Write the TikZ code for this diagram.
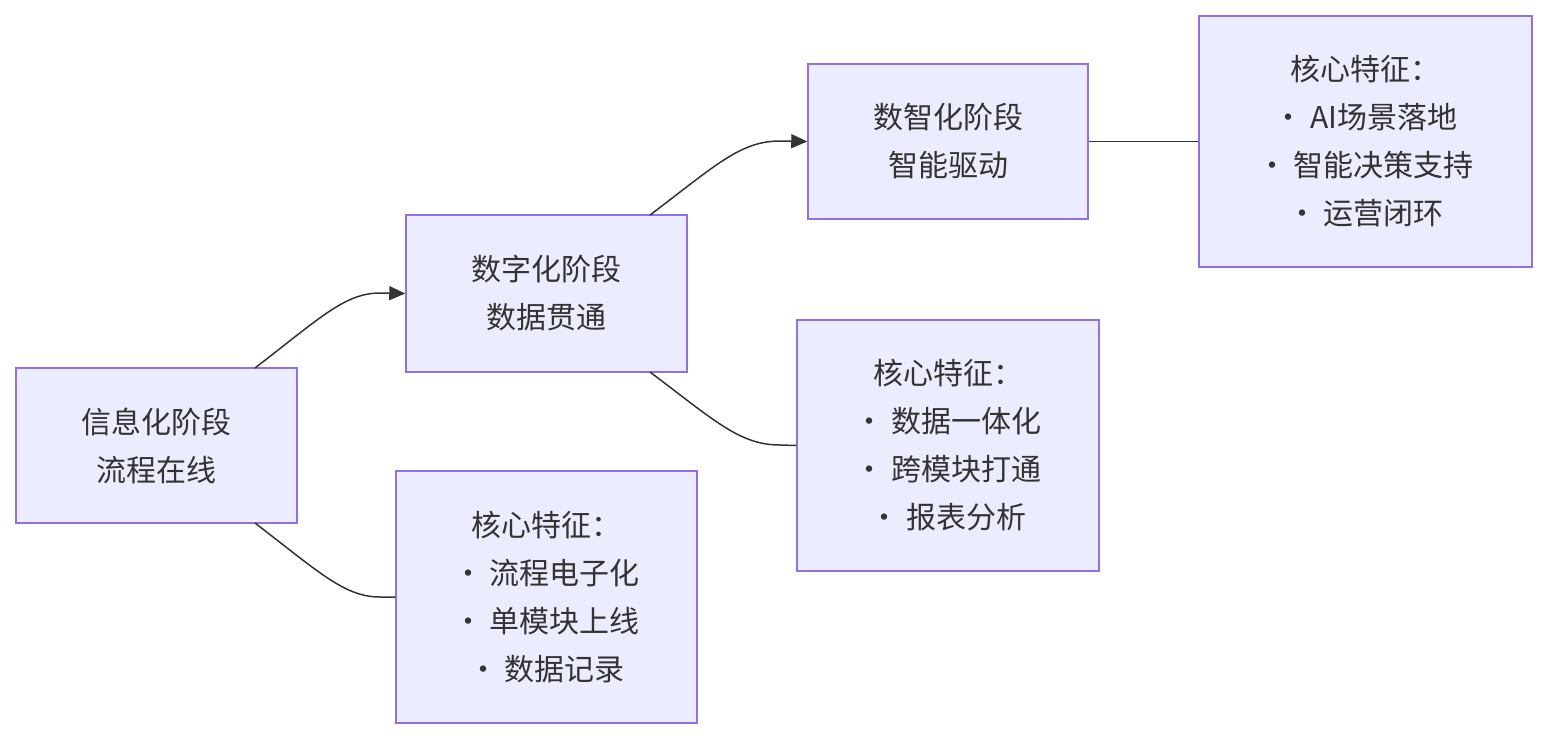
\documentclass[tikz,border=0pt]{standalone}
\usepackage{fontspec}
\setmainfont{Noto Sans CJK SC}
\usetikzlibrary{arrows.meta}
\definecolor{bfill}{HTML}{ECECFF}
\definecolor{bdraw}{HTML}{9370DB}
\definecolor{lcol}{HTML}{333333}
\begin{document}
\begin{tikzpicture}[x=1pt,y=-1pt,
  box/.style={draw=bdraw,fill=bfill,line width=1.5pt,align=center,inner sep=0pt,
    font=\fontsize{30}{48}\selectfont,text=lcol},
  conn/.style={draw=lcol,line width=1.5pt},
  arr/.style={conn,-{Triangle[length=16pt,width=14pt]}}]
\useasboundingbox[fill=white] (0,0) rectangle (1548,740);
\node[box,minimum width=281pt,minimum height=155pt] (b1) at (156.5,445.5) {信息化阶段\\流程在线};
\node[box,minimum width=281pt,minimum height=157pt] (b2) at (546.5,293.5) {数字化阶段\\数据贯通};
\node[box,minimum width=280pt,minimum height=155pt] (b3) at (948,141.5) {数智化阶段\\智能驱动};
\node[box,minimum width=333pt,minimum height=251pt] (c3) at (1365.5,141.5) {核心特征：\\· AI场景落地\\· 智能决策支持\\· 运营闭环};
\node[box,minimum width=302pt,minimum height=251pt] (c2) at (948,445.5) {核心特征：\\· 数据一体化\\· 跨模块打通\\· 报表分析};
\node[box,minimum width=301pt,minimum height=252pt] (c1) at (546.5,597) {核心特征：\\· 流程电子化\\· 单模块上线\\· 数据记录};
\coordinate (s1) at (255,368);
\coordinate (s2) at (255,523);
\coordinate (s3) at (650,215);
\coordinate (s4) at (650,372);
\draw[arr] (s1) .. controls (320,318) and (345,293) .. (380,293) -- (b2.west);
\draw[conn] (s2) .. controls (320,573) and (345,597) .. (380,597) -- (c1.west);
\draw[arr] (s3) .. controls (715,166) and (740,141) .. (780,141) -- (b3.west);
\draw[conn] (s4) .. controls (715,421) and (740,445) .. (780,445) -- (c2.west);
\draw[conn] (b3.east) -- (c3.west);
\end{tikzpicture}
\end{document}
